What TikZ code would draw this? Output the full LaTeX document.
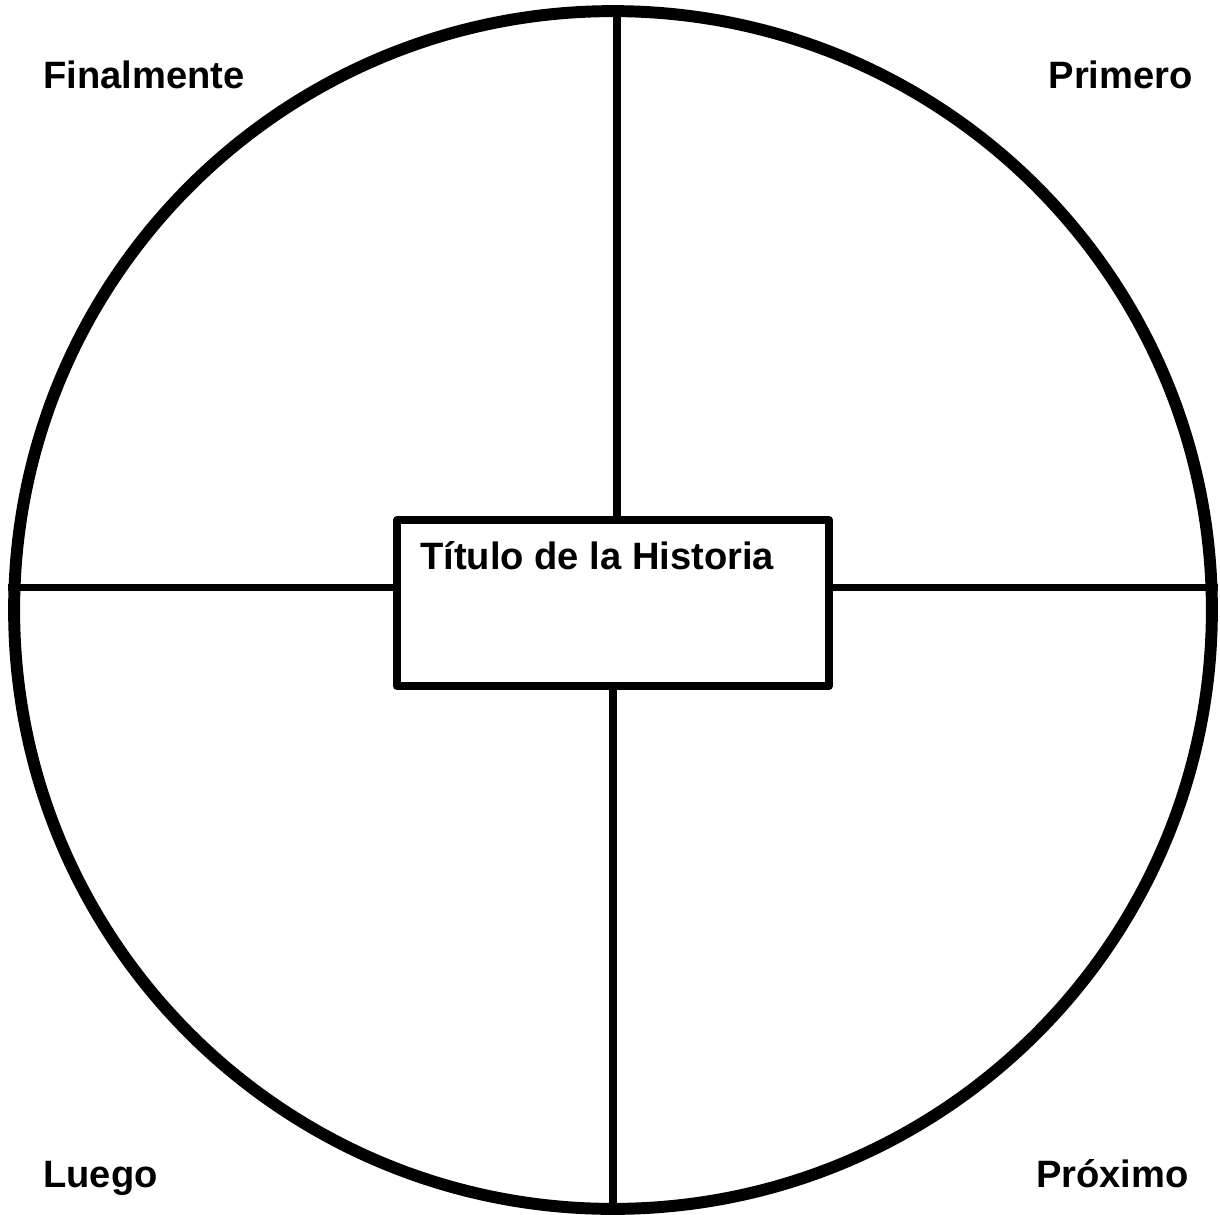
\documentclass[tikz,border=0pt]{standalone}
\usepackage{fontspec}
\setmainfont{Liberation Sans}
\usetikzlibrary{positioning,calc}

\begin{document}
\begin{tikzpicture}[
  x=0.02cm,y=-0.02cm,
  rim/.style={draw,circle,minimum size=23.96cm,inner sep=0pt,line width=6.8pt},
  titlebox/.style={draw,rectangle,minimum width=8.64cm,minimum height=3.32cm,inner sep=0pt,line width=4.5pt,line join=round},
  spoke/.style={line width=4.5pt},
  lbl/.style={font=\fontsize{21.7}{26}\selectfont\bfseries,inner sep=0pt}
]
\useasboundingbox (0,0) rectangle (1220,1214);
\node[rim] (wheel) at (613,610) {};
\node[titlebox] (title) at (613,603) {};
\node[lbl,anchor=base west] (titletext) at (420,569) {Título de la Historia};
% corner labels
\node[lbl,anchor=base west] (last) at (43,88) {Finalmente};
\node[lbl,anchor=base east] (first) at (1193,88) {Primero};
\node[lbl,anchor=base west] (then) at (43,1187) {Luego};
\node[lbl,anchor=base east] (next) at (1189,1187) {Próximo};
% spokes
\coordinate (topj) at ($(title.north)+(4,0)$);
\coordinate (leftj) at ($(title.west)+(0,-15.5)$);
\coordinate (rightj) at ($(title.east)+(0,-15.5)$);
\draw[spoke] (topj) -- (topj |- wheel.north);
\draw[spoke,line cap=round] (title.south) -- ($(wheel.south)+(0,-3)$);
\draw[spoke] (leftj) -- (leftj -| wheel.west);
\draw[spoke] (rightj) -- (rightj -| wheel.east);
\end{tikzpicture}
\end{document}
